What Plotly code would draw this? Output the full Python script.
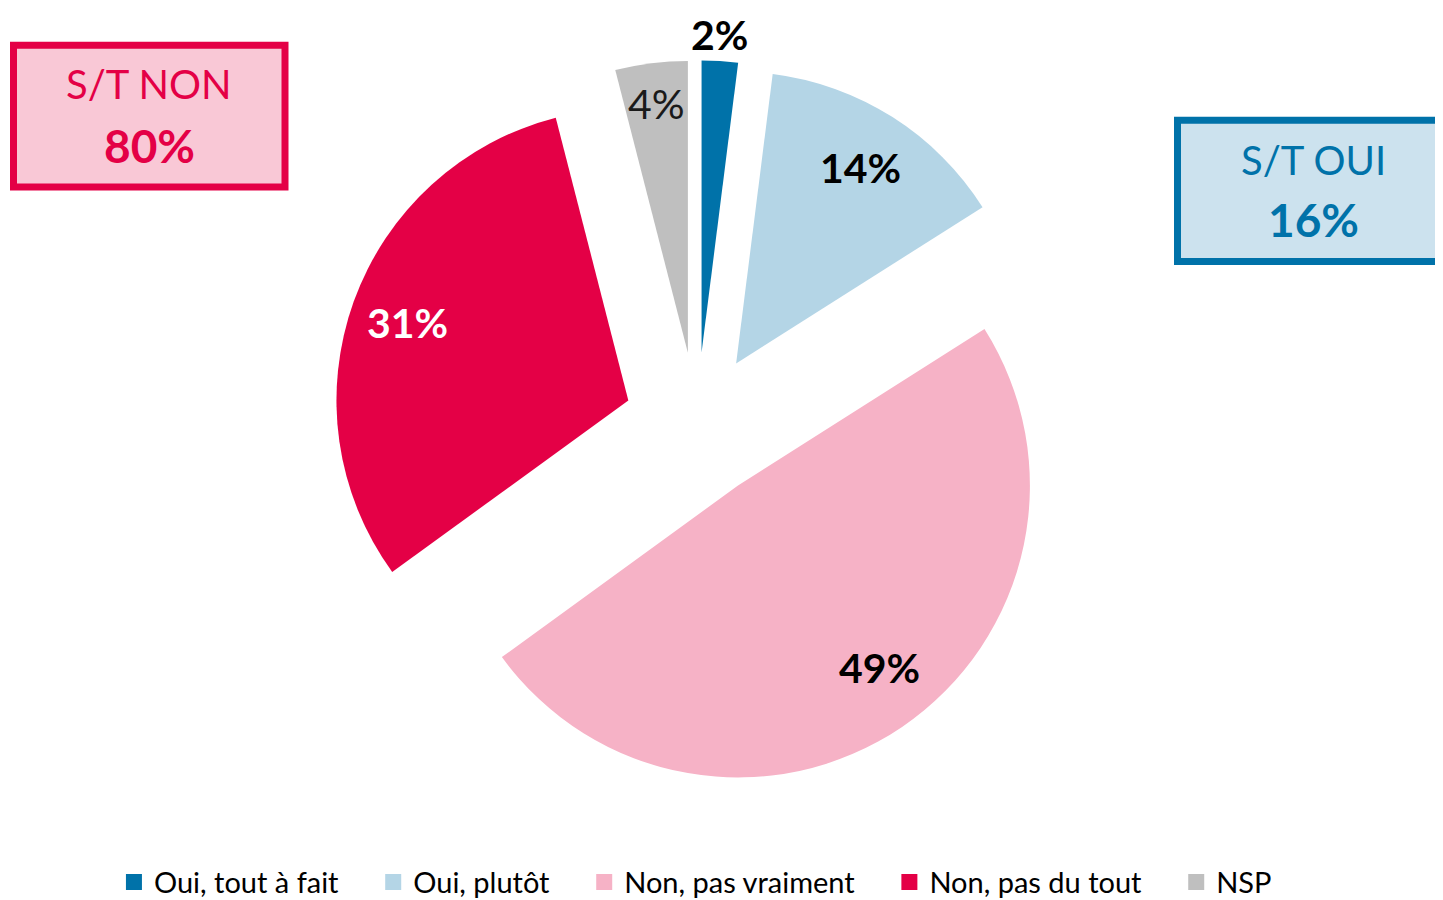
import math
import plotly.graph_objects as go

# ---- data ----
labels = ["Oui, tout à fait", "Oui, plutôt", "Non, pas vraiment", "Non, pas du tout", "NSP"]
values = [2, 14, 49, 31, 4]
value_text = ["2%", "14%", "49%", "31%", "4%"]
summary_titles = ["S/T NON", "S/T OUI"]
summary_values = ["80%", "16%"]

# ---- style ----
colors = ["#0072A9", "#B4D5E6", "#F6B2C6", "#E40046", "#BFBFBF"]
label_colors = ["#000000", "#000000", "#000000", "#FFFFFF", "#1A1A1A"]
label_bold = [True, True, True, True, False]
label_dist = [1.11, 0.79, 0.79, 0.80, 0.858]    # fraction of radius, measured from slice tip
label_nudge = [(-3, 6), (0, -1), (11, -9), (0, 1), (0, -1)]  # px, screen (x right, y down)
FONT = "Lato"
LABEL_SIZE = 40

W, H = 1443, 900
PULL = 0.25
dom_x = [0.22322, 0.73174]
dom_y = [0.12622, 0.94156]
NBSP = "\u00a0" * 4

fig = go.Figure()
fig.add_trace(go.Pie(
    labels=labels, values=values, sort=False, direction="clockwise", rotation=0,
    pull=[PULL] * len(values), marker=dict(colors=colors, line=dict(width=0)),
    textinfo="none", hoverinfo="label+percent", showlegend=False,
    domain=dict(x=dom_x, y=dom_y),
))

# legend entries (square markers)
for i, (lab, col) in enumerate(zip(labels, colors)):
    fig.add_trace(go.Scatter(x=[None], y=[None], mode="markers",
                             name=lab + (NBSP if i < len(labels) - 1 else ""),
                             marker=dict(symbol="square", size=16, color=col),
                             showlegend=True, hoverinfo="skip"))

# ---- value labels positioned from the data ----
r = min(W * (dom_x[1] - dom_x[0]) / 2, H * (dom_y[1] - dom_y[0]) / 2) / (1 + PULL)
cx = W * (dom_x[0] + dom_x[1]) / 2
cy = H * (dom_y[0] + dom_y[1]) / 2
total = sum(values)
cum = 0
annotations = []
for v, txt, col, bold, dist, (nx, ny) in zip(values, value_text, label_colors, label_bold,
                                             label_dist, label_nudge):
    mid = (cum + v / 2) / total * 2 * math.pi
    cum += v
    d = (PULL + dist) * r
    px = cx + d * math.sin(mid) + nx
    py = cy + d * math.cos(mid) - ny
    annotations.append(dict(
        x=px / W, y=py / H, xref="paper", yref="paper", showarrow=False,
        text=f"<b>{txt}</b>" if bold else txt,
        font=dict(family=FONT, size=LABEL_SIZE + 1, color=col),
        xanchor="center", yanchor="middle",
    ))

# ---- summary boxes ----
shapes = [
    dict(type="rect", xref="paper", yref="paper",
         x0=5.5 / W, x1=277 / W, y0=1 - 180 / H, y1=1 - 37.5 / H,
         fillcolor="#F9C8D6", line=dict(color="#E40046", width=7), layer="below"),
    dict(type="rect", xref="paper", yref="paper",
         x0=1169.5 / W, x1=1470 / W, y0=1 - 255 / H, y1=1 - 113 / H,
         fillcolor="#CCE2EE", line=dict(color="#0072A9", width=7), layer="below"),
]
box_specs = [(141, 76, 138, "#E40046"), (1305, 153, 213, "#0072A9")]
for (bx, ty, vy, col), t, v in zip(box_specs, summary_titles, summary_values):
    annotations.append(dict(x=bx / W, y=1 - ty / H, xref="paper", yref="paper", showarrow=False,
                            text=t, font=dict(family=FONT, size=40, color=col),
                            xanchor="center", yanchor="middle"))
    annotations.append(dict(x=bx / W, y=1 - vy / H, xref="paper", yref="paper", showarrow=False,
                            text=f"<b>{v}</b>", font=dict(family=FONT, size=46, color=col),
                            xanchor="center", yanchor="middle"))

fig.update_layout(
    width=W, height=H,
    margin=dict(l=0, r=0, t=0, b=0),
    paper_bgcolor="white", plot_bgcolor="white",
    xaxis=dict(visible=False), yaxis=dict(visible=False),
    shapes=shapes, annotations=annotations,
    legend=dict(orientation="h", x=0.4764, xanchor="center", y=1 - 879 / H, yanchor="middle",
                font=dict(family=FONT, size=29, color="#000000"), itemclick=False,
                bgcolor="rgba(0,0,0,0)"),
    font=dict(family=FONT),
)

fig.write_html("out.html")
